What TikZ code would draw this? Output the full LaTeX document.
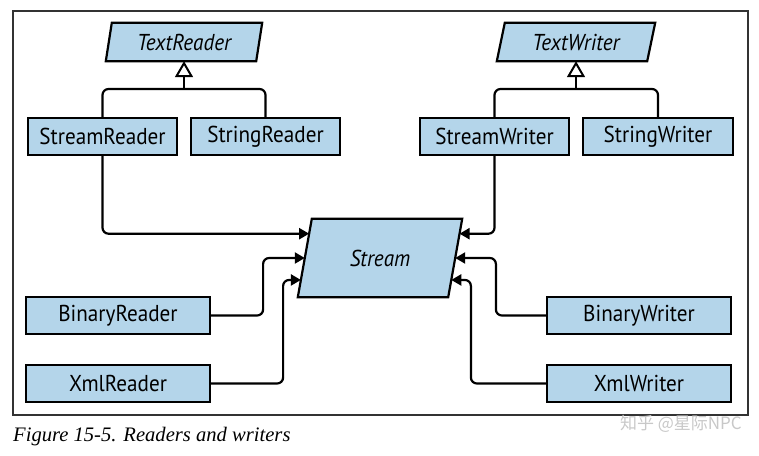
\documentclass[tikz,border=0pt]{standalone}
\usepackage{fontspec}
\setmainfont{Liberation Serif}
\setsansfont[FakeStretch=0.92]{PT Sans}
\newfontfamily\cjkfont{Noto Sans CJK SC}
\usetikzlibrary{arrows.meta,calc,backgrounds}
\definecolor{boxblue}{HTML}{B4D5EA}
\definecolor{framegray}{HTML}{333333}
\definecolor{wmgray}{HTML}{C8C8C8}
\tikzset{
  cls/.style={draw=black,fill=boxblue,line width=2.2pt,inner sep=0pt,
    minimum height=37pt,font=\sffamily\fontsize{23}{25}\selectfont},
  paratext/.style={inner sep=0pt,font=\sffamily\itshape\fontsize{23}{25}\selectfont},
  parabox/.style={draw=black,fill=boxblue,line width=2.2pt},
  conn/.style={draw=black,line width=2.2pt,rounded corners=6pt,
    -{Triangle[length=10pt,width=11pt]}},
  inh/.style={draw=black,line width=2.2pt,rounded corners=6pt},
  opentri/.style={draw=black,fill=white,line width=2pt,line join=miter}
}
\begin{document}
\begin{tikzpicture}[x=1pt,y=-1pt]
\useasboundingbox (0,0) rectangle (759,455);
\draw[framegray,line width=1.2pt] (13,11) rectangle (748,415);

% abstract classes
\node[paratext,minimum width=150pt,minimum height=38pt] (treader) at (184,42) {TextReader};
\node[paratext,minimum width=150pt,minimum height=38pt] (twriter) at (576,42) {TextWriter};
\node[paratext,minimum width=150pt,minimum height=78pt] (stream) at (380,258) {Stream};
\begin{scope}[on background layer]
\draw[parabox] ([xshift=-3pt]treader.south west) -- ([xshift=3pt]treader.north west)
  -- ([xshift=3pt]treader.north east) -- ([xshift=-3pt]treader.south east) -- cycle;
\draw[parabox] ([xshift=-4pt]twriter.south west) -- ([xshift=4pt]twriter.north west)
  -- ([xshift=4pt]twriter.north east) -- ([xshift=-4pt]twriter.south east) -- cycle;
\draw[parabox] ([xshift=-7pt]stream.south west) -- ([xshift=7pt]stream.north west)
  -- ([xshift=7pt]stream.north east) -- ([xshift=-7pt]stream.south east) -- cycle;
\end{scope}
\coordinate (sbl) at ([xshift=-7pt]stream.south west);
\coordinate (stl) at ([xshift=7pt]stream.north west);
\coordinate (sbr) at ([xshift=-7pt]stream.south east);
\coordinate (str) at ([xshift=7pt]stream.north east);
\coordinate (sL1) at ($(sbl)!0.81!(stl)$);
\coordinate (sL2) at ($(sbl)!0.50!(stl)$);
\coordinate (sL3) at ($(sbl)!0.22!(stl)$);
\coordinate (sR1) at ($(sbr)!0.81!(str)$);
\coordinate (sR2) at ($(sbr)!0.50!(str)$);
\coordinate (sR3) at ($(sbr)!0.22!(str)$);

% concrete classes
\node[cls,minimum width=149pt] (sreader) at (102.5,136.5) {StreamReader};
\node[cls,minimum width=149pt] (strreader) at (265.5,136.5) {StringReader};
\node[cls,minimum width=149pt] (swriter) at (494.5,136.5) {StreamWriter};
\node[cls,minimum width=150pt] (strwriter) at (658,136.5) {StringWriter};
\node[cls,minimum width=184pt] (breader) at (118,315.5) {BinaryReader};
\node[cls,minimum width=184pt] (xreader) at (118,383.5) {XmlReader};
\node[cls,minimum width=184pt] (bwriter) at (639,315.5) {BinaryWriter};
\node[cls,minimum width=184pt] (xwriter) at (639,383.5) {XmlWriter};

% inheritance
\coordinate (rj) at (184,89);
\coordinate (wj) at (576,89);
\coordinate (rtip) at ([yshift=-2pt]treader.south);
\coordinate (wtip) at ([yshift=-2pt]twriter.south);
\draw[inh] (sreader.north) |- (rj) -| (strreader.north);
\draw[inh] (rj) -- (rtip);
\draw[opentri] (rtip) -- ++(-7.5,13) -- ++(15,0) -- cycle;
\draw[inh] (swriter.north) |- (wj) -| (strwriter.north);
\draw[inh] (wj) -- (wtip);
\draw[opentri] (wtip) -- ++(-7.5,13) -- ++(15,0) -- cycle;

% associations
\draw[conn] (sreader.south) |- (sL1);
\draw[conn] (breader.east) -- ++(52,0) |- (sL2);
\draw[conn] (xreader.east) -- ++(72,0) |- (sL3);
\draw[conn] (swriter.south) |- (sR1);
\draw[conn] (bwriter.west) -- ++(-50,0) |- (sR2);
\draw[conn] (xwriter.west) -- ++(-75,0) |- (sR3);

% caption and watermark
\node[anchor=west,inner sep=0pt,font=\itshape\fontsize{20.6}{24}\selectfont] (cap) at (13,437) {Figure 15-5. Readers and writers};
\node[anchor=east,inner sep=0pt,text=wmgray,font=\cjkfont\fontsize{17}{20}\selectfont] (wm) at (742,424) {知乎 @星际NPC};
\end{tikzpicture}
\end{document}
